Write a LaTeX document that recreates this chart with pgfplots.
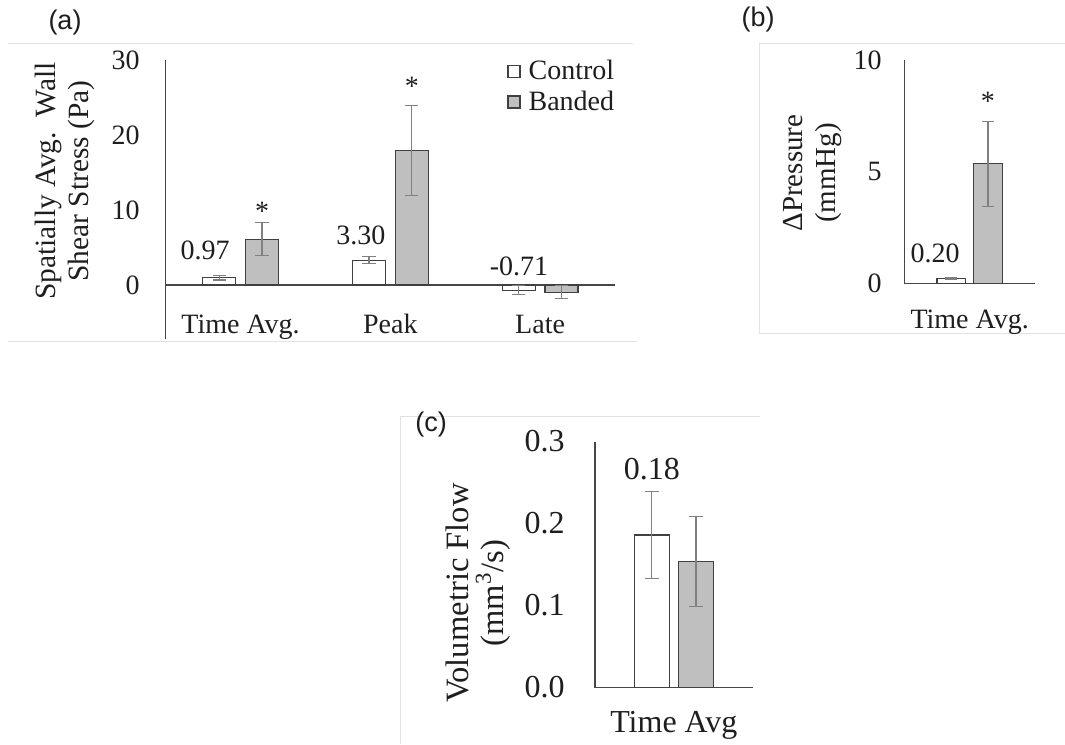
\documentclass[border=0pt]{standalone}
\usepackage{fontspec}
\setmainfont{Liberation Serif}
\newfontfamily\sansf{Liberation Sans}
\usepackage{pgfplots}
\pgfplotsset{compat=1.18}
\usepackage{pgfplotstable}

\definecolor{barfill}{RGB}{191,191,191}
\definecolor{bardraw}{RGB}{64,64,64}
\definecolor{errc}{RGB}{128,128,128}
\definecolor{axc}{RGB}{70,70,70}
\definecolor{txt}{RGB}{30,30,30}
\definecolor{framec}{RGB}{226,226,226}

% x = bar centre (category index -/+ 0.143)
\pgfplotstableread{
x y e
-0.143 0.97 0.30
0.857 3.30 0.45
1.857 -0.71 0.60
}\wssControl
\pgfplotstableread{
x y e
0.143 6.10 2.20
1.143 17.90 6.00
2.143 -0.95 0.85
}\wssBanded
\pgfplotstableread{
x y e
-0.14 0.20 0.04
}\dpControl
\pgfplotstableread{
x y e
0.14 5.35 1.90
}\dpBanded
\pgfplotstableread{
x y e
-0.14 0.186 0.053
}\qControl
\pgfplotstableread{
x y e
0.14 0.154 0.055
}\qBanded

\pgfplotsset{
  common/.style={
    scale only axis, enlargelimits=false,
    axis y line=left,
    hide obscured x ticks=false, hide obscured y ticks=false,
    major tick length=0pt, tick style={draw=none},
    /pgf/number format/assume math mode=true,
    every tick label/.append style={text=txt},
    ylabel style={align=center, anchor=center, text=txt},
  },
  lines/.style={axis line style={-, axc, line width=0.6pt}, x axis line style={-}, y axis line style={-}},
  sqlegend/.style={legend image code/.code={\draw[##1, line width=0.6pt] (0pt,-3pt) rectangle (6pt,3pt);}},
  eb/.style={error bars/.cd, y dir=both, y explicit, error mark=-,
    error bar style={errc, line width=0.6pt},
    error mark options={rotate=90, errc, line width=0.6pt, mark size=#1}},
}

\begin{document}
\begin{tikzpicture}
\path[use as bounding box] (0,0) rectangle (532.5pt,-372pt);

% faint frames
\draw[framec, line width=0.5pt] (4pt,-21.65pt) -- (316.5pt,-21.65pt);
\draw[framec, line width=0.5pt] (4pt,-170.8pt) -- (318.5pt,-170.8pt);
\draw[framec, line width=0.5pt] (379.5pt,-166.5pt) -- (379.5pt,-21.5pt) -- (532.5pt,-21.5pt);
\draw[framec, line width=0.5pt] (379.5pt,-166.5pt) -- (532.5pt,-166.5pt);
\draw[framec, line width=0.5pt] (200.35pt,-372pt) -- (200.35pt,-208pt) -- (380pt,-208pt);

% panel labels
\node[font=\sansf\fontsize{13.5}{15}\selectfont, text=txt] at (32.5pt,-11.5pt) {(a)};
\node[font=\sansf\fontsize{13.5}{15}\selectfont, text=txt] at (379pt,-10pt) {(b)};
\node[font=\sansf\fontsize{13.5}{15}\selectfont, text=txt] at (215.5pt,-212.5pt) {(c)};

% ---------------- (a) ----------------
\begin{axis}[common,
  at={(82.85pt,-169.5pt)}, anchor=south west,
  width=224.65pt, height=139.5pt,
  xmin=-0.5, xmax=2.5, ymin=-7.2, ymax=30,
  axis x line=middle, lines,
  xtick={0,1,2}, xticklabels={Time Avg., Peak, Late},
  ytick={0,10,20,30},
  every tick label/.append style={font=\fontsize{14}{16.5}\selectfont},
  xticklabel style={anchor=base, yshift=-24pt, inner sep=0pt},
  yticklabel style={anchor=east, inner sep=0pt, xshift=-12.85pt},
  ylabel={Spatially Avg.~~Wall\\Shear Stress (Pa)},
  ylabel style={at={(axis description cs:-0.224,0.566)}, font=\fontsize{14.7}{16.5}\selectfont},
  legend cell align=left,
  legend style={draw=none, fill=none, at={(axis description cs:0.7596,1.011)}, anchor=north west,
    inner sep=0pt, row sep=1pt, column sep=2.5pt, font=\fontsize{14}{16.5}\selectfont, text=txt, nodes={inner sep=1.5pt}},
]
\addplot[ybar, sqlegend, bar width=0.22, bar shift=0pt, fill=white, draw=bardraw, line width=0.6pt, eb=3.3pt]
  table[x=x, y=y, y error=e] {\wssControl};
\addlegendentry{Control}
\addplot[ybar, sqlegend, bar width=0.22, bar shift=0pt, fill=barfill, draw=bardraw, line width=0.6pt, eb=3.3pt]
  table[x=x, y=y, y error=e] {\wssBanded};
\addlegendentry{Banded}
\begin{scope}[font=\fontsize{14}{16.5}\selectfont, text=txt]
\node[inner sep=0pt] at (axis cs:-0.2376,4.67) {0.97};
\node[inner sep=0pt] at (axis cs:0.804,6.67) {3.30};
\node[inner sep=0pt] at (axis cs:1.859,2.53) {-0.71};
\node[inner sep=0pt, anchor=base] at (axis cs:0.143,8.6) {*};
\node[inner sep=0pt, anchor=base] at (axis cs:1.143,25.3) {*};
\end{scope}
\end{axis}

% ---------------- (b) ----------------
\begin{axis}[common,
  at={(452.15pt,-141.65pt)}, anchor=south west,
  width=65.35pt, height=111.65pt,
  xmin=-0.5, xmax=0.5, ymin=0, ymax=10,
  axis x line=bottom, lines,
  xtick={0}, xticklabels={Time Avg.},
  ytick={0,5,10},
  every tick label/.append style={font=\fontsize{14}{16.5}\selectfont},
  xticklabel style={anchor=base, yshift=-22.5pt, inner sep=0pt},
  yticklabel style={anchor=east, inner sep=0pt, xshift=-11.15pt},
  ylabel={ΔPressure\\(mmHg)},
  ylabel style={at={(axis description cs:-0.699,0.494)}, font=\fontsize{14.5}{16.5}\selectfont},
]
\addplot[ybar, bar width=0.22, bar shift=0pt, fill=white, draw=bardraw, line width=0.6pt, eb=3pt]
  table[x=x, y=y, y error=e] {\dpControl};
\addplot[ybar, bar width=0.22, bar shift=0pt, fill=barfill, draw=bardraw, line width=0.6pt, eb=3pt]
  table[x=x, y=y, y error=e] {\dpBanded};
\begin{scope}[font=\fontsize{14}{16.5}\selectfont, text=txt]
\node[inner sep=0pt] at (axis cs:-0.265,1.34) {0.20};
\node[inner sep=0pt, anchor=base] at (axis cs:0.14,7.75) {*};
\end{scope}
\end{axis}

% ---------------- (c) ----------------
\begin{axis}[common,
  at={(297.5pt,-343.75pt)}, anchor=south west,
  width=78.85pt, height=123pt,
  xmin=-0.5, xmax=0.5, ymin=0, ymax=0.3,
  axis x line=bottom, lines,
  xtick={0}, xticklabels={Time Avg},
  ytick={0,0.1,0.2,0.3},
  yticklabel style={/pgf/number format/.cd, fixed, fixed zerofill, precision=1, /tikz/.cd},
  every tick label/.append style={font=\fontsize{16}{18}\selectfont},
  xticklabel style={anchor=base, yshift=-22.5pt, inner sep=0pt},
  yticklabel style={anchor=east, inner sep=0pt, xshift=-15pt},
  ylabel={Volumetric Flow\\(mm\textsuperscript{3}/s)},
  ylabel style={at={(axis description cs:-0.742,0.384)}, font=\fontsize{16.3}{17.5}\selectfont},
]
\addplot[ybar, bar width=0.22, bar shift=0pt, fill=white, draw=bardraw, line width=0.6pt, eb=3.5pt]
  table[x=x, y=y, y error=e] {\qControl};
\addplot[ybar, bar width=0.22, bar shift=0pt, fill=barfill, draw=bardraw, line width=0.6pt, eb=3.5pt]
  table[x=x, y=y, y error=e] {\qBanded};
\node[inner sep=0pt, font=\fontsize{16}{18}\selectfont, text=txt] at (axis cs:-0.139,0.266) {0.18};
\end{axis}
\end{tikzpicture}
\end{document}
